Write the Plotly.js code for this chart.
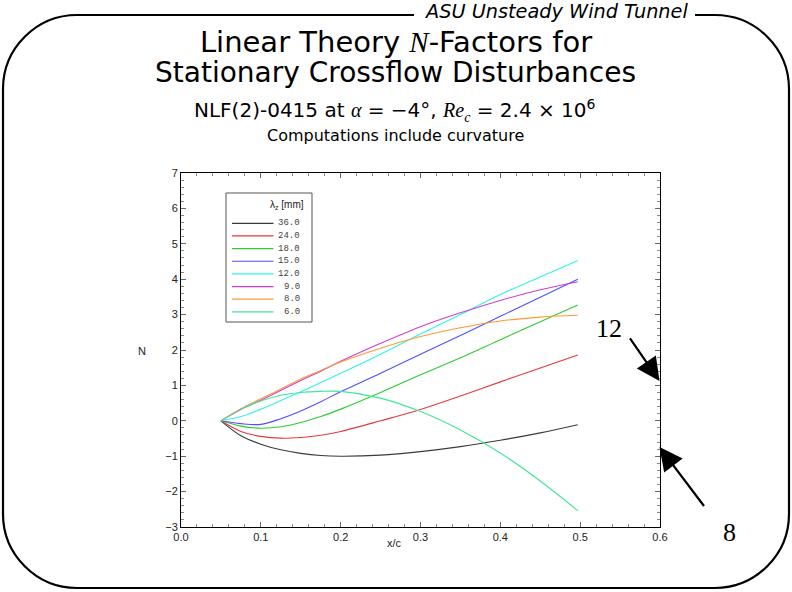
<!DOCTYPE html>
<html>
<head>
<meta charset="utf-8">
<script src="https://cdn.plot.ly/plotly-3.0.1.min.js"></script>
<style>
  html, body { margin: 0; padding: 0; background: #ffffff; }
  #chart { width: 792px; height: 592px; }
</style>
</head>
<body>
<div id="chart"></div>
<script>
// Chordwise stations x/c
const xc = [0.05, 0.075, 0.1, 0.125, 0.15, 0.175, 0.2, 0.25, 0.3, 0.35, 0.4, 0.45, 0.497];

// Spanwise wavelengths (legend labels)
const wavelengths = ['36.0', '24.0', '18.0', '15.0', '12.0', '9.0', '8.0', '6.0'];

// N-factor curves, one per wavelength
const n36 = [0, -0.42, -0.66, -0.82, -0.92, -0.98, -1.00, -0.97, -0.87, -0.73, -0.55, -0.34, -0.11];
const n24 = [0, -0.30, -0.44, -0.49, -0.47, -0.41, -0.30, 0.00, 0.32, 0.70, 1.10, 1.49, 1.86];
const n18 = [0, -0.15, -0.21, -0.17, -0.05, 0.12, 0.33, 0.80, 1.30, 1.78, 2.29, 2.80, 3.27];
const n15 = [0, -0.08, -0.10, 0.06, 0.28, 0.54, 0.82, 1.34, 1.88, 2.41, 2.95, 3.49, 4.00];
const n12 = [0, 0.12, 0.33, 0.57, 0.82, 1.08, 1.34, 1.88, 2.45, 3.00, 3.57, 4.06, 4.53];
const n9  = [0, 0.32, 0.58, 0.86, 1.14, 1.40, 1.68, 2.19, 2.66, 3.05, 3.40, 3.70, 3.93];
const n8  = [0, 0.34, 0.62, 0.90, 1.18, 1.42, 1.66, 2.05, 2.38, 2.63, 2.82, 2.93, 2.98];
const n6  = [0, 0.33, 0.56, 0.72, 0.80, 0.83, 0.83, 0.64, 0.26, -0.26, -0.91, -1.70, -2.54];

const seriesN = [n36, n24, n18, n15, n12, n9, n8, n6];
const colors = ['#3a3a3a', '#e8383d', '#2ecc2e', '#4f4fff', '#2ef5e8', '#cc3fd8', '#ff9a33', '#3fe89a'];

// Tick labels
const xTicks = [0, 0.1, 0.2, 0.3, 0.4, 0.5, 0.6];
const xTickText = ['0.0', '0.1', '0.2', '0.3', '0.4', '0.5', '0.6'];
const yTicks = [-3, -2, -1, 0, 1, 2, 3, 4, 5, 6, 7];

// Plot box in pixels
const W = 792, H = 592;
const box = { l: 181, t: 173, w: 479, h: 354 };
const px = x => (x - box.l) / box.w;
const py = y => (box.t + box.h - y) / box.h;

const traces = seriesN.map((n, i) => ({
  type: 'scatter',
  mode: 'lines',
  x: xc,
  y: n,
  name: wavelengths[i],
  line: { color: colors[i], width: 1.1, shape: 'spline', smoothing: 1 },
  showlegend: false,
  hoverinfo: 'x+y+name'
}));

const shapes = [];
const annotations = [];

// Rounded page frame, open at the top for the banner text
(function frame() {
  const L = 3, R = 789, T = 15, B = 588, r = 74, k = 0.45;
  const P = (x, y) => px(x).toFixed(5) + ',' + py(y).toFixed(5);
  const d = 'M' + P(414, T) +
    ' L' + P(L + r, T) +
    ' C' + P(L + r * k, T) + ' ' + P(L, T + r * k) + ' ' + P(L, T + r) +
    ' L' + P(L, B - r) +
    ' C' + P(L, B - r * k) + ' ' + P(L + r * k, B) + ' ' + P(L + r, B) +
    ' L' + P(R - r, B) +
    ' C' + P(R - r * k, B) + ' ' + P(R, B - r * k) + ' ' + P(R, B - r) +
    ' L' + P(R, T + r) +
    ' C' + P(R, T + r * k) + ' ' + P(R - r * k, T) + ' ' + P(R - r, T) +
    ' L' + P(695, T);
  shapes.push({ type: 'path', xref: 'paper', yref: 'paper', path: d,
    line: { color: '#000', width: 2.2 } });
})();

// Legend box
const lg = { x0: 226, y0: 193, x1: 312, y1: 322, first: 223.3, step: 12.65 };
shapes.push({ type: 'rect', xref: 'paper', yref: 'paper',
  x0: px(lg.x0), x1: px(lg.x1), y0: py(lg.y0), y1: py(lg.y1),
  line: { color: '#555', width: 1 }, fillcolor: '#fff', layer: 'above' });
annotations.push({ xref: 'paper', yref: 'paper', x: px(306), y: py(205),
  xanchor: 'right', yanchor: 'middle', showarrow: false,
  text: 'λ<sub>z</sub> [mm]',
  font: { family: 'Liberation Sans, Arial, sans-serif', size: 10, color: '#222' } });
wavelengths.forEach((w, i) => {
  const yy = lg.first + i * lg.step;
  shapes.push({ type: 'line', xref: 'paper', yref: 'paper',
    x0: px(232), x1: px(273.5), y0: py(yy), y1: py(yy),
    line: { color: colors[i], width: 1.2 }, layer: 'above' });
  annotations.push({ xref: 'paper', yref: 'paper', x: px(302), y: py(yy),
    xanchor: 'right', yanchor: 'middle', showarrow: false, text: w,
    font: { family: 'Liberation Mono, DejaVu Sans Mono, monospace', size: 9, color: '#444' } });
});

// Headings
const head = 'DejaVu Sans, Verdana, sans-serif';
const sans = 'Liberation Sans, Arial, sans-serif';
const mathI = s => '<span style="font-family:Liberation Serif"><i>' + s + '</i></span>';
annotations.push({ xref: 'paper', yref: 'paper', x: px(395), y: py(72),
  xanchor: 'center', yanchor: 'middle', showarrow: false,
  text: 'Stationary Crossflow Disturbances',
  font: { family: head, size: 28, color: '#000' } });
annotations.push({ xref: 'paper', yref: 'paper', x: px(395), y: py(110),
  xanchor: 'center', yanchor: 'middle', showarrow: false,
  text: 'NLF(2)-0415 at ' + mathI('α') + ' = −4°, ' + mathI('Re<sub>c</sub>') + ' = 2.4 × 10<sup>6</sup>',
  font: { family: head, size: 20, color: '#000' } });
annotations.push({ xref: 'paper', yref: 'paper', x: px(395), y: py(135),
  xanchor: 'center', yanchor: 'middle', showarrow: false,
  text: 'Computations include curvature',
  font: { family: head, size: 16, color: '#000' } });
annotations.push({ xref: 'paper', yref: 'paper', x: px(556), y: py(11),
  xanchor: 'center', yanchor: 'middle', showarrow: false,
  text: '<i>ASU Unsteady Wind Tunnel</i>',
  font: { family: head, size: 19.3, color: '#000' } });

// Axis labels
annotations.push({ xref: 'paper', yref: 'paper', x: px(142), y: py(351),
  xanchor: 'center', yanchor: 'middle', showarrow: false, text: 'N',
  font: { family: sans, size: 11, color: '#222' } });
annotations.push({ xref: 'paper', yref: 'paper', x: px(394), y: py(543),
  xanchor: 'center', yanchor: 'middle', showarrow: false, text: 'x/c',
  font: { family: sans, size: 11, color: '#222' } });

// Pointer arrows with their labels
const serif = 'Liberation Serif, Times New Roman, serif';
annotations.push({ xref: 'paper', yref: 'paper', x: px(609), y: py(328),
  xanchor: 'center', yanchor: 'middle', showarrow: false, text: '12',
  font: { family: serif, size: 26, color: '#000' } });
annotations.push({ xref: 'paper', yref: 'paper', x: px(729), y: py(532),
  xanchor: 'center', yanchor: 'middle', showarrow: false, text: '8',
  font: { family: serif, size: 26, color: '#000' } });
annotations.push({ xref: 'paper', yref: 'paper', x: px(659.5), y: py(381),
  axref: 'pixel', ayref: 'pixel', ax: 627 - 659.5, ay: 334 - 381,
  showarrow: true, text: ' ', arrowhead: 2, arrowsize: 2.1, arrowwidth: 2.2,
  arrowcolor: '#000', standoff: 0 });
annotations.push({ xref: 'paper', yref: 'paper', x: px(659.5), y: py(447),
  axref: 'pixel', ayref: 'pixel', ax: 707 - 659.5, ay: 510 - 447,
  showarrow: true, text: ' ', arrowhead: 2, arrowsize: 2.1, arrowwidth: 2.2,
  arrowcolor: '#000', standoff: 0 });

const tickFont = { family: sans, size: 11, color: '#222' };
const layout = {
  width: W, height: H,
  margin: { l: box.l, r: W - box.l - box.w, t: box.t, b: H - box.t - box.h, pad: 0 },
  paper_bgcolor: '#fff', plot_bgcolor: '#fff',
  showlegend: false,
  title: {
    text: 'Linear Theory ' + mathI('N') + '-Factors for',
    x: 0.5, xref: 'container', xanchor: 'center',
    y: 1 - 42 / H, yref: 'container', yanchor: 'middle',
    font: { family: head, size: 29, color: '#000' }
  },
  xaxis: {
    range: [0, 0.6], tickvals: xTicks, ticktext: xTickText,
    showgrid: false, zeroline: false,
    showline: true, linecolor: '#000', linewidth: 1, mirror: 'ticks',
    ticks: 'inside', ticklen: 5, tickwidth: 1, tickcolor: '#666',
    minor: { dtick: 0.02, ticks: 'inside', ticklen: 3, tickcolor: '#888', showgrid: false },
    tickfont: tickFont, fixedrange: true
  },
  yaxis: {
    range: [-3, 7], tickvals: yTicks,
    showgrid: false, zeroline: false,
    showline: true, linecolor: '#000', linewidth: 1, mirror: 'ticks',
    ticks: 'inside', ticklen: 5, tickwidth: 1, tickcolor: '#666',
    minor: { dtick: 0.2, ticks: 'inside', ticklen: 3, tickcolor: '#888', showgrid: false },
    tickfont: tickFont, fixedrange: true
  },
  shapes: shapes,
  annotations: annotations
};

Plotly.newPlot('chart', traces, layout, { displayModeBar: false });
</script>
</body>
</html>
